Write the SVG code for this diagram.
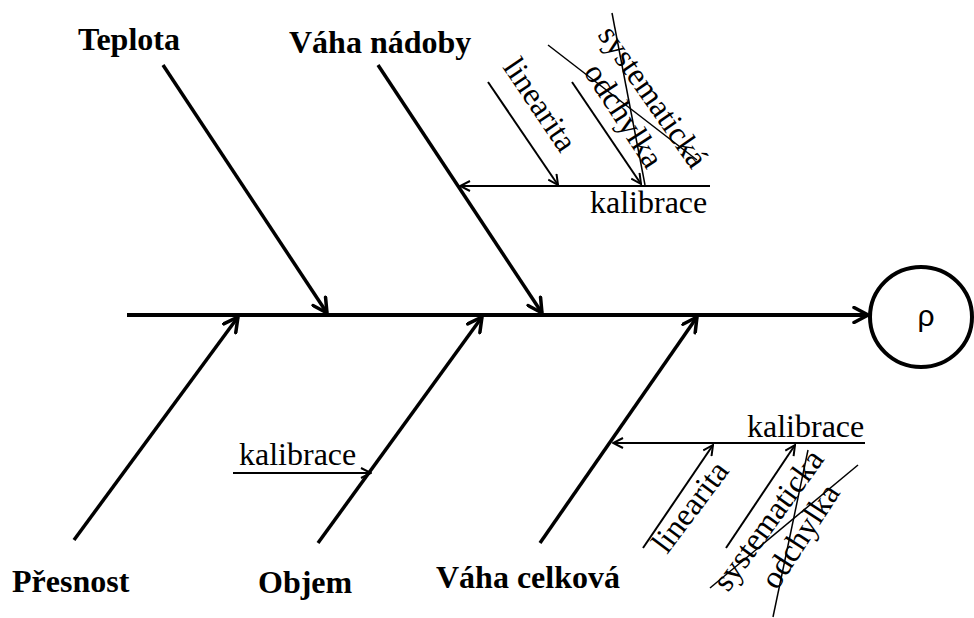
<svg xmlns="http://www.w3.org/2000/svg" width="974" height="618" viewBox="0 0 974 618">
  <style>
    .bg { fill: #ffffff; }
    .spine { stroke: #000; stroke-width: 4; fill: none; }
    .rib { stroke: #000; stroke-width: 3.5; fill: none; }
    .sub { stroke: #000; stroke-width: 2; fill: none; }
    .cross { stroke: #000; stroke-width: 1.5; fill: none; }
    .cat { font-family: "Liberation Serif", "Times New Roman", serif; font-weight: bold; font-size: 32px; fill: #000; }
    .lbl { font-family: "Liberation Serif", "Times New Roman", serif; font-size: 32px; fill: #000; }
    .sym { font-family: "Liberation Sans", Arial, sans-serif; font-size: 30px; fill: #000; }
  </style>
  <defs>
    <marker id="headBig" viewBox="0 0 18 18" refX="16" refY="9" markerWidth="18" markerHeight="18" markerUnits="userSpaceOnUse" orient="auto">
      <path d="M2,1.5 L16,9 L2,16.5" fill="none" stroke="#000" stroke-width="3.5" stroke-linecap="round" stroke-linejoin="miter"/>
    </marker>
    <marker id="headSmall" viewBox="0 0 12 12" refX="11" refY="6" markerWidth="12" markerHeight="12" markerUnits="userSpaceOnUse" orient="auto">
      <path d="M1,1 L11,6 L1,11" fill="none" stroke="#000" stroke-width="2"/>
    </marker>
  </defs>

  <rect class="bg" x="0" y="0" width="974" height="618"/>

  <!-- connectors: spine, category ribs, cause branches, strike-outs -->
  <g id="connectors">
    <path class="spine" d="M127,315 L868,315" marker-end="url(#headBig)"/>

    <path class="rib" d="M163,65 L327,313" marker-end="url(#headBig)"/>
    <path class="rib" d="M378,65 L542,313" marker-end="url(#headBig)"/>
    <path class="rib" d="M74,540 L238,317" marker-end="url(#headBig)"/>
    <path class="rib" d="M318,543 L482,317" marker-end="url(#headBig)"/>
    <path class="rib" d="M540,543 L697,317" marker-end="url(#headBig)"/>

    <path class="sub" d="M710,186 L460,186" marker-end="url(#headSmall)"/>
    <path class="sub" d="M488,82 L558,185" marker-end="url(#headSmall)"/>
    <path class="sub" d="M572,82 L641,184" marker-end="url(#headSmall)"/>

    <path class="sub" d="M865,443 L613,443" marker-end="url(#headSmall)"/>
    <path class="sub" d="M643,548 L713,445" marker-end="url(#headSmall)"/>
    <path class="sub" d="M726,548 L795,445" marker-end="url(#headSmall)"/>

    <path class="sub" d="M233,473 L371,473" marker-end="url(#headSmall)"/>

    <path class="cross" d="M548,45 L697,160"/>
    <path class="cross" d="M612,13 L645,185"/>
    <path class="cross" d="M710,588 L858,465"/>
    <path class="cross" d="M773,617 L808,450"/>
  </g>

  <!-- effect -->
  <g id="rho">
    <ellipse cx="921" cy="317" rx="51" ry="50" fill="none" stroke="#000" stroke-width="4"/>
    <text class="sym" x="926" y="326" text-anchor="middle">ρ</text>
  </g>

  <!-- categories -->
  <g id="teplota"><text class="cat" x="78" y="50">Teplota</text></g>
  <g id="vaha-nadoby"><text class="cat" x="289" y="53">Váha nádoby</text></g>
  <g id="presnost"><text class="cat" x="12" y="592">Přesnost</text></g>
  <g id="objem"><text class="cat" x="258" y="593">Objem</text></g>
  <g id="vaha-celkova"><text class="cat" x="436" y="588">Váha celková</text></g>

  <!-- causes on Váha nádoby -->
  <g id="kalibrace-nadoba"><text class="lbl" x="590" y="213">kalibrace</text></g>
  <g id="linearita-nadoba"><text class="lbl" transform="translate(502,67) rotate(56)">linearita</text></g>
  <g id="odchylka-nadoba"><text class="lbl" transform="translate(583,72) rotate(57)">odchylka</text></g>
  <g id="systematicka-nadoba"><text class="lbl" transform="translate(597,35) rotate(55)">systematická</text></g>

  <!-- causes on Váha celková -->
  <g id="kalibrace-celkova"><text class="lbl" x="747" y="437">kalibrace</text></g>
  <g id="linearita-celkova"><text class="lbl" transform="translate(667,555) rotate(-53)">linearita</text></g>
  <g id="systematicka-celkova"><text class="lbl" transform="translate(728,593) rotate(-54)">systematicka</text></g>
  <g id="odchylka-celkova"><text class="lbl" transform="translate(777,591) rotate(-57)">odchylka</text></g>

  <!-- cause on Objem -->
  <g id="kalibrace-objem"><text class="lbl" x="239" y="465">kalibrace</text></g>
</svg>
